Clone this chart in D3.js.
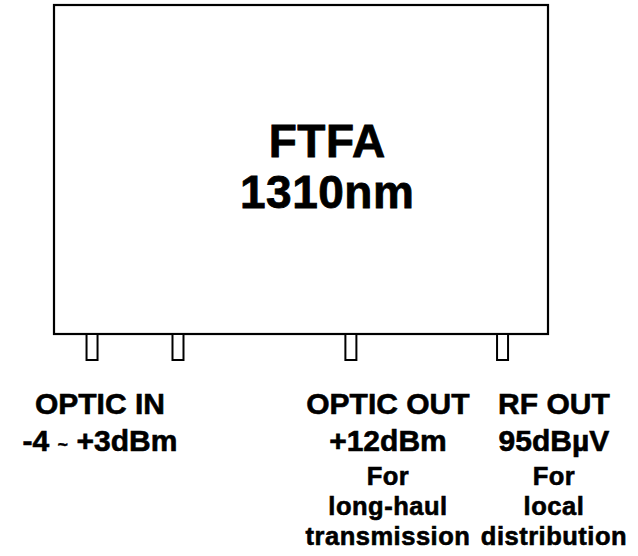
<!DOCTYPE html>
<html>
<head>
<meta charset="utf-8">
<script src="https://cdn.jsdelivr.net/npm/d3@7"></script>
<style>
  body { margin: 0; background: #fff; }
  text { font-family: "Liberation Sans", Arial, Helvetica, sans-serif; font-weight: bold; fill: #000; stroke: #000; stroke-width: 0.6px; }
</style>
</head>
<body>
<svg id="chart" width="638" height="556"></svg>
<script>
// device title
var title = ["FTFA", "1310nm"];

// connectors along the bottom edge, position as fraction of box width
var ports = ["in1", "in2", "optOut", "rfOut"];
var portPos = [0.077, 0.251, 0.601, 0.908];

// label columns under the box
var columns = ["optIn", "optOut", "rfOut"];
var colPos = [0.093, 0.676, 1.012];
var headLines = [["OPTIC IN", "-4 ~ +3dBm"], ["OPTIC OUT", "+12dBm"], ["RF OUT", "95dBµV"]];
var noteLines = [[], ["For", "long-haul", "transmission"], ["For", "local", "distribution"]];

var svg = d3.select("#chart");

var box = { x0: 54, x1: 548, y0: 5, y1: 334 };
var x = d3.scaleLinear().domain([0, 1]).range([box.x0, box.x1]);

// main box
svg.append("rect")
  .attr("x", box.x0).attr("y", box.y0)
  .attr("width", box.x1 - box.x0).attr("height", box.y1 - box.y0)
  .attr("fill", "none").attr("stroke", "#000").attr("stroke-width", 2.2);

// title text
svg.selectAll("text.title")
  .data(title)
  .enter().append("text")
  .attr("class", "title")
  .attr("x", x(0.553))
  .attr("y", function(d, i) { return 157 + i * 51; })
  .attr("text-anchor", "middle")
  .style("font-size", "46px")
  .style("letter-spacing", "0.5px")
  .style("stroke-width", "0.8px")
  .text(function(d) { return d; });

// connector stubs
svg.selectAll("rect.port")
  .data(ports)
  .enter().append("rect")
  .attr("class", "port")
  .attr("x", function(d, i) { return x(portPos[i]) - 5.5; })
  .attr("y", box.y1)
  .attr("width", 11)
  .attr("height", 26)
  .attr("fill", "#fff").attr("stroke", "#000").attr("stroke-width", 2);

// column labels
var cols = svg.selectAll("g.col")
  .data(columns)
  .enter().append("g")
  .attr("class", "col")
  .attr("transform", function(d, i) { return "translate(" + x(colPos[i]) + ",0)"; });

cols.each(function(d, i) {
  var g = d3.select(this);
  headLines[i].forEach(function(line, j) {
    var t = g.append("text")
      .attr("y", 414 + j * 37)
      .attr("text-anchor", "middle")
      .style("font-size", "30px");
    if (line.indexOf("~") >= 0) {
      var parts = line.split("~");
      t.append("tspan").text(parts[0]);
      t.append("tspan").style("font-size", "18px").style("stroke-width", "0.3px").text("~");
      t.append("tspan").text(parts[1]);
    } else {
      t.text(line);
    }
  });
  noteLines[i].forEach(function(line, j) {
    g.append("text")
      .attr("y", 485 + j * 30)
      .attr("text-anchor", "middle")
      .style("font-size", "25.5px")
      .style("letter-spacing", "0.5px")
      .text(line);
  });
});
</script>
</body>
</html>
